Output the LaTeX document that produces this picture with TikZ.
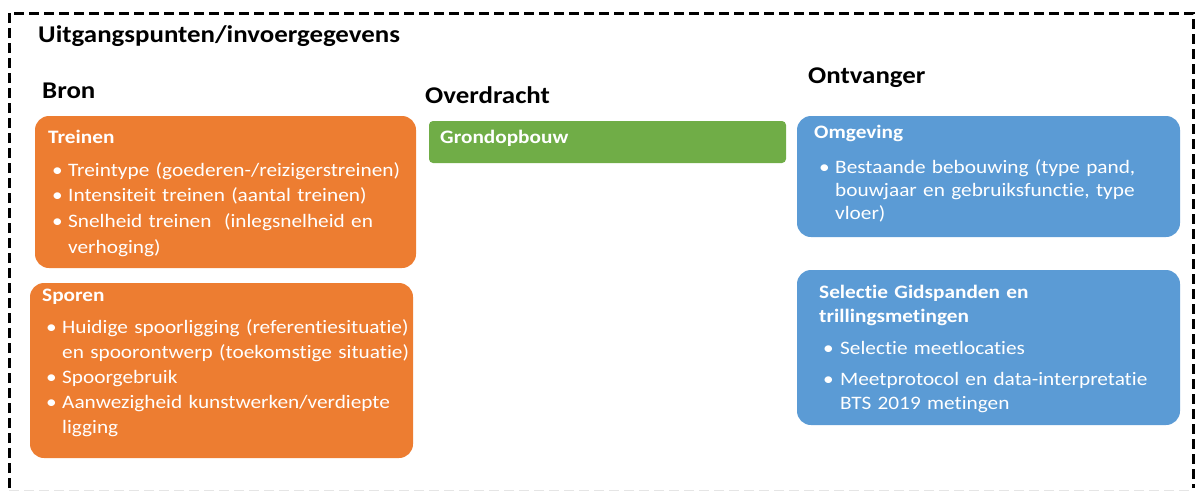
\documentclass[tikz,border=0pt]{standalone}
\usepackage{fontspec}
\setmainfont{Carlito}[FakeStretch=1.12, Ligatures=NoCommon]
\definecolor{orng}{HTML}{ED7D31}
\definecolor{grn}{HTML}{70AD47}
\definecolor{blu}{HTML}{5B9BD5}
% #1 = left offset of bullet, #2 = bullet-to-text distance, #3 = text
\newcommand{\bitem}[3]{\par{\leftskip=\dimexpr#1+#2\relax\noindent\hspace*{-#2}\makebox[#2][l]{\textbullet}#3\par}}
\tikzset{
  frame/.style={line width=3pt, dash pattern=on 10pt off 5pt},
  box/.style={draw=none, anchor=north west, inner sep=0pt},
  boxtext/.style={anchor=north west, inner sep=0pt, text=white, align=left, text width=420pt},
  head/.style={anchor=west, inner sep=0pt, font=\fontsize{24}{28}\selectfont\bfseries},
}
\begin{document}
\begin{tikzpicture}[x=1pt,y=-1pt]
\useasboundingbox (0,0) rectangle (1199,491);
\draw[frame] (9,488) -- (9,13) -- (1193,13) -- (1193,488);
\draw[black!10, line width=1pt, dash pattern=on 10pt off 5pt] (9,490.5) -- (1193,490.5);
\node[head] (title) at (38,36) {Uitgangspunten/invoergegevens};
\node[head] (bron) at (42,91) {Bron};
\node[head] (over) at (425,95) {Overdracht};
\node[head] (ontv) at (808,78) {Ontvanger};

% boxes
\path[fill=orng,rounded corners=14pt] (35,116) rectangle (416,268);
\node[box, minimum width=381pt, minimum height=152pt] (treinen) at (35,116) {};
\path[fill=orng,rounded corners=14pt] (30,283) rectangle (413,458);
\node[box, minimum width=383pt, minimum height=175pt] (sporen) at (30,283) {};
\path[fill=grn,rounded corners=4pt] (429,121) rectangle (786,163);
\node[box, minimum width=357pt, minimum height=42pt] (grond) at (429,121) {};
\path[fill=blu,rounded corners=14pt] (797,116) rectangle (1180,237);
\node[box, minimum width=383pt, minimum height=121pt] (omg) at (797,116) {};
\path[fill=blu,rounded corners=14pt] (797,270) rectangle (1180,425);
\node[box, minimum width=383pt, minimum height=155pt] (sel) at (797,270) {};

\node[boxtext, font=\fontsize{19}{25.7}\selectfont] (t1) at ([shift={(13,13.5)}]treinen.north west) {%
\textbf{Treinen}\par\vspace{7.5pt}
\bitem{4pt}{16pt}{Treintype (goederen-/reizigerstreinen)}
\bitem{4pt}{16pt}{Intensiteit treinen (aantal treinen)}
\bitem{4pt}{16pt}{Snelheid treinen\ \ (inlegsnelheid en\\verhoging)}};

\node[boxtext, font=\fontsize{19}{24.8}\selectfont] (t2) at ([shift={(12,6)}]sporen.north west) {%
\textbf{Sporen}\par\vspace{7.5pt}
\bitem{4pt}{16pt}{Huidige spoorligging (referentiesituatie)\\en spoorontwerp (toekomstige situatie)}
\bitem{4pt}{16pt}{Spoorgebruik}
\bitem{4pt}{16pt}{Aanwezigheid kunstwerken/verdiepte\\ligging}};

\node[boxtext, font=\fontsize{19}{24}\selectfont] (t3) at ([shift={(11,9)}]grond.north west) {\textbf{Grondopbouw}};

\node[boxtext, font=\fontsize{19}{23}\selectfont] (t4) at ([shift={(17,9)}]omg.north west) {%
\textbf{Omgeving}\par\vspace{12pt}
\bitem{5pt}{16pt}{Bestaande bebouwing (type pand,\\bouwjaar en gebruiksfunctie, type\\vloer)}};

\node[boxtext, font=\fontsize{19}{24}\selectfont] (t5) at ([shift={(22,15)}]sel.north west) {%
\textbf{Selectie Gidspanden en\\trillingsmetingen}\par\vspace{8pt}
\bitem{4pt}{17pt}{Selectie meetlocaties}\vspace{7pt}
\bitem{4pt}{17pt}{Meetprotocol en data-interpretatie\\BTS 2019 metingen}};
\end{tikzpicture}
\end{document}
